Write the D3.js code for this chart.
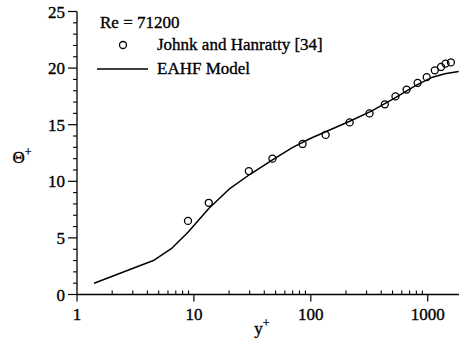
<!DOCTYPE html>
<html>
<head>
<meta charset="utf-8">
<script src="https://cdn.jsdelivr.net/npm/d3@7"></script>
<style>
  html, body { margin: 0; padding: 0; background: #fff; }
  svg { display: block; }
  text { font-family: "Liberation Serif", "Times New Roman", serif; fill: #000; stroke: #000; stroke-width: 0.35; }
</style>
</head>
<body>
<svg id="chart" width="459" height="341"></svg>
<script>
// Experimental data: Johnk and Hanratty [34]
const expYPlus = [8.9, 13.4, 29.5, 47, 85, 134, 215, 318, 430, 530, 660, 820, 980, 1150, 1300, 1420, 1580];
const expTheta = [6.5, 8.1, 10.9, 12.0, 13.3, 14.1, 15.2, 16.0, 16.8, 17.5, 18.1, 18.7, 19.2, 19.8, 20.1, 20.4, 20.5];

// EAHF model prediction
const modelYPlus = [1.4, 4.5, 6.5, 8.9, 13.4, 20, 30, 47, 70, 100, 150, 215, 330, 530, 800, 1100, 1400, 1840];
const modelTheta = [1.0, 3.0, 4.1, 5.5, 7.6, 9.3, 10.6, 11.9, 13.0, 13.8, 14.6, 15.3, 16.2, 17.4, 18.5, 19.2, 19.5, 19.7];

// Axis ticks
const xMajorTicks = [1, 10, 100, 1000];
const xTickLabels = ["1", "10", "100", "1000"];
const xMinorTicks = [2,3,4,5,6,7,8,9,20,30,40,50,60,70,80,90,200,300,400,500,600,700,800,900];
const yMajorTicks = [0, 5, 10, 15, 20, 25];
const yMinorTicks = d3.range(0, 26).filter(v => v % 5 !== 0);

const legendTitle = "Re = 71200";
const seriesNames = ["Johnk and Hanratty [34]", "EAHF Model"];

const svg = d3.select("#chart");

const x = d3.scaleLog().domain([1, 2000]).range([77, 77 + 116.9 * Math.log10(2000)]);
const y = d3.scaleLinear().domain([0, 25]).range([294.5, 11.5]);

const axisColor = "#000";

// X axis: major ticks point down, minor ticks point up
const gx = svg.append("g").attr("transform", `translate(0,${y(0)})`);
gx.append("line")
  .attr("x1", x(1)).attr("x2", x(2000))
  .attr("stroke", axisColor).attr("stroke-width", 1.3);
gx.selectAll("line.major").data(xMajorTicks).join("line")
  .attr("class", "major")
  .attr("x1", d => x(d)).attr("x2", d => x(d))
  .attr("y1", 0).attr("y2", 7)
  .attr("stroke", axisColor).attr("stroke-width", 1.2);
gx.selectAll("line.minor").data(xMinorTicks).join("line")
  .attr("class", "minor")
  .attr("x1", d => x(d)).attr("x2", d => x(d))
  .attr("y1", 0).attr("y2", -4)
  .attr("stroke", axisColor).attr("stroke-width", 1.1);
gx.selectAll("text").data(xMajorTicks).join("text")
  .attr("x", d => x(d)).attr("y", 25)
  .attr("text-anchor", "middle")
  .attr("font-size", 17)
  .text((d, i) => xTickLabels[i]);

// Y axis: ticks point left
const gy = svg.append("g").attr("transform", `translate(${x(1)},0)`);
gy.append("line")
  .attr("y1", y(0)).attr("y2", y(25))
  .attr("stroke", axisColor).attr("stroke-width", 1.3);
gy.selectAll("line.major").data(yMajorTicks).join("line")
  .attr("class", "major")
  .attr("y1", d => y(d)).attr("y2", d => y(d))
  .attr("x1", 0).attr("x2", -9)
  .attr("stroke", axisColor).attr("stroke-width", 1.2);
gy.selectAll("line.minor").data(yMinorTicks).join("line")
  .attr("class", "minor")
  .attr("y1", d => y(d)).attr("y2", d => y(d))
  .attr("x1", 0).attr("x2", -4)
  .attr("stroke", axisColor).attr("stroke-width", 1.1);
gy.selectAll("text").data(yMajorTicks).join("text")
  .attr("x", -12).attr("y", d => y(d) + 6)
  .attr("text-anchor", "end")
  .attr("font-size", 17)
  .text(d => d);

// Axis titles
svg.append("text")
  .attr("x", 262).attr("y", 334)
  .attr("text-anchor", "middle").attr("font-size", 17)
  .html('y<tspan dy="-7" font-size="12">+</tspan>');
svg.append("text")
  .attr("x", 22).attr("y", 163)
  .attr("text-anchor", "middle").attr("font-size", 17)
  .html('Θ<tspan dy="-7" font-size="12">+</tspan>');

// Model curve
const modelData = modelYPlus.map((v, i) => [v, modelTheta[i]]);
svg.append("path")
  .datum(modelData)
  .attr("fill", "none")
  .attr("stroke", "#000")
  .attr("stroke-width", 1.5)
  .attr("stroke-linejoin", "round")
  .attr("d", d3.line().x(d => x(d[0])).y(d => y(d[1])));

// Experimental points
const expData = expYPlus.map((v, i) => [v, expTheta[i]]);
svg.append("g").selectAll("circle").data(expData).join("circle")
  .attr("cx", d => x(d[0])).attr("cy", d => y(d[1]))
  .attr("r", 3.5)
  .attr("fill", "none").attr("stroke", "#000").attr("stroke-width", 1.3);

// Legend
const lg = svg.append("g");
lg.append("text").attr("x", 100).attr("y", 28).attr("font-size", 17).text(legendTitle);
lg.append("circle").attr("cx", 123).attr("cy", 45).attr("r", 3.5)
  .attr("fill", "none").attr("stroke", "#000").attr("stroke-width", 1.3);
lg.append("text").attr("x", 157).attr("y", 50).attr("font-size", 17).text(seriesNames[0]);
lg.append("line").attr("x1", 97).attr("x2", 148).attr("y1", 69).attr("y2", 69)
  .attr("stroke", "#000").attr("stroke-width", 1.5);
lg.append("text").attr("x", 157).attr("y", 74).attr("font-size", 17).text(seriesNames[1]);
</script>
</body>
</html>
